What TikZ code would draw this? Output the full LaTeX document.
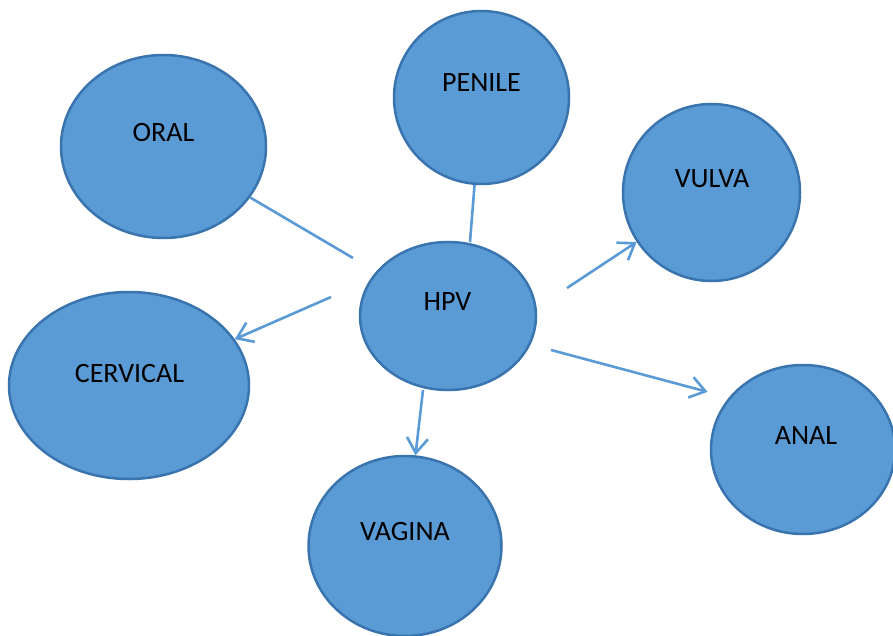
\documentclass[tikz,border=0pt]{standalone}
\usepackage{fontspec}
\setmainfont{Carlito}
\usetikzlibrary{arrows.meta,shapes.geometric}
\definecolor{blobfill}{HTML}{5B9BD5}
\definecolor{blobline}{HTML}{3A74AE}

\begin{document}
\begin{tikzpicture}[x=1pt, y=-1pt,
  site/.style={ellipse, draw=blobline, fill=blobfill, line width=2.5pt, inner sep=0pt},
  tag/.style={anchor=base, inner sep=0pt, font=\fontsize{28}{32}\selectfont},
  link/.style={draw=blobfill, line width=2.6pt},
  arr/.style={link, -{Straight Barb[length=15pt,width=21pt]}}]
  \useasboundingbox (0,0) rectangle (893,636);
  % blobs
  \node[site, minimum width=205pt, minimum height=183pt] (oral) at (163.5,146.5) {};
  \node[site, minimum width=175pt, minimum height=173pt] (penile) at (481.5,97.5) {};
  \node[site, minimum width=177pt, minimum height=177pt] (vulva) at (711.5,192.5) {};
  \node[site, minimum width=176pt, minimum height=148pt] (hpv) at (448,316) {};
  \node[site, minimum width=240pt, minimum height=187pt] (cervical) at (129,385.5) {};
  \node[site, minimum width=193pt, minimum height=180pt] (vagina) at (405,546) {};
  \node[site, minimum width=184pt, minimum height=169pt] (anal) at (803,449.5) {};
  % labels
  \node[tag] (oral-t) at (163.5,142) {ORAL};
  \node[tag] (penile-t) at (481.5,92) {PENILE};
  \node[tag] (vulva-t) at (712,188) {VULVA};
  \node[tag] (hpv-t) at (447.5,310) {HPV};
  \node[tag] (cervical-t) at (129.5,382) {CERVICAL};
  \node[tag] (vagina-t) at (405,540) {VAGINA};
  \node[tag] (anal-t) at (806,444) {ANAL};
  % loose ends near HPV
  \coordinate (e-oral) at (353,258);
  \coordinate (e-penile) at (470,242);
  \coordinate (e-vulva) at (567,288);
  \coordinate (e-cervical) at (331,297);
  \coordinate (e-anal) at (551,350);
  \coordinate (e-vagina) at (423,390);
  % links
  \draw[link] (e-oral) -- (oral);
  \draw[link] (e-penile) -- (penile);
  \draw[arr] (e-vulva) -- (vulva);
  \draw[arr] (e-cervical) -- (cervical);
  \draw[arr, shorten >=22pt] (e-anal) -- (anal.145);
  \draw[arr] (e-vagina) -- (vagina);
\end{tikzpicture}
\end{document}
